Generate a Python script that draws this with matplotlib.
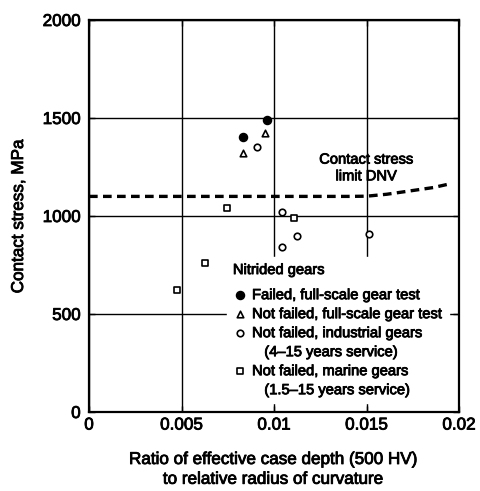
import numpy as np
import matplotlib
matplotlib.use("Agg")
import matplotlib.pyplot as plt
import matplotlib.patheffects as pe
from matplotlib.lines import Line2D
from matplotlib.text import Text

plt.rcParams['font.family'] = ['Liberation Sans', 'DejaVu Sans']

# Nitrided gear data: ratio of case depth to radius of curvature vs contact stress (MPa)
failed_test_x = [0.00962, 0.00834]
failed_test_y = [1490, 1405]

notfailed_test_x = [0.00951, 0.00834]
notfailed_test_y = [1425, 1322]

industrial_x = [0.00908, 0.01043, 0.01126, 0.01511, 0.01043]
industrial_y = [1350, 1022, 900, 910, 842]

marine_x = [0.00748, 0.01110, 0.00629, 0.00476]
marine_y = [1042, 988, 760, 622]

# DNV contact stress limit curve
dnv_x = [0.0, 0.0140, 0.0150, 0.0161, 0.01735, 0.0186, 0.0196]
dnv_y = [1100, 1100, 1101, 1111, 1128, 1145, 1166]

fig = plt.figure(figsize=(4.8, 4.91), dpi=100)
ax = fig.add_axes([89 / 480, 1 - 412 / 491, 370 / 480, 392 / 491])

ax.set_xlim(0, 0.02)
ax.set_ylim(0, 2000)
ax.set_xticks([0, 0.005, 0.01, 0.015, 0.02])
ax.set_xticklabels(['0', '0.005', '0.01', '0.015', '0.02'])
ax.set_yticks([0, 500, 1000, 1500, 2000])
ax.grid(True, color='black', linewidth=1.0)
ax.set_axisbelow(True)
for sp in ax.spines.values():
    sp.set_linewidth(1.6)
ax.tick_params(direction='in', length=4, width=1.0, labelsize=12.3,
               top=True, right=True)
ax.tick_params(axis='x', pad=4)
ax.tick_params(axis='y', pad=6)

ax.plot(dnv_x, dnv_y, color='black', linewidth=2.4, linestyle=(0, (2.6, 1.6)), zorder=3)
ax.text(0.0150, 1245, 'Contact stress\nlimit DNV', ha='center', va='center',
        fontsize=10.6, linespacing=1.25)

h_failed = ax.scatter(failed_test_x, failed_test_y, marker='o', s=34, color='black', zorder=4)
h_test = ax.scatter(notfailed_test_x, notfailed_test_y, marker='^', s=22, facecolor='white',
                    edgecolor='black', linewidth=1.2, zorder=4)
h_ind = ax.scatter(industrial_x, industrial_y, marker='o', s=22, facecolor='white',
                   edgecolor='black', linewidth=1.2, zorder=4)
h_mar = ax.scatter(marine_x, marine_y, marker='s', s=20, facecolor='white',
                   edgecolor='black', linewidth=1.2, zorder=4)

# second lines of the labels go in their own rows with no marker
blank = Line2D([], [], linestyle='none')
handles = [h_failed, h_test, h_ind, blank, h_mar, blank]
labels = ['Failed, full-scale gear test',
          'Not failed, full-scale gear test',
          'Not failed, industrial gears',
          '   (4\u201315 years service)',
          'Not failed, marine gears',
          '   (1.5\u201315 years service)']

leg = ax.legend(handles, labels, loc='upper left', bbox_to_anchor=(0.373, 0.395),
                title='Nitrided gears', fontsize=10.6, title_fontsize=10.6,
                frameon=True, fancybox=False, edgecolor='white', facecolor='white',
                framealpha=1, handletextpad=0.3, labelspacing=0.34, borderpad=0.4,
                handlelength=1.0, borderaxespad=0, scatterpoints=1)
leg._legend_box.align = 'left'
leg._legend_box.sep = 8
leg.set_zorder(5)

ax.set_ylabel('Contact stress, MPa', fontsize=12.3, labelpad=12)
ax.set_xlabel('Ratio of effective case depth (500 HV)\nto relative radius of curvature',
              fontsize=12.3, labelpad=14, linespacing=1.4)

# slightly heavier strokes on all text
for t in fig.findobj(Text):
    t.set_path_effects([pe.withStroke(linewidth=0.6, foreground='black')])

fig.savefig('out.png', dpi=100)
